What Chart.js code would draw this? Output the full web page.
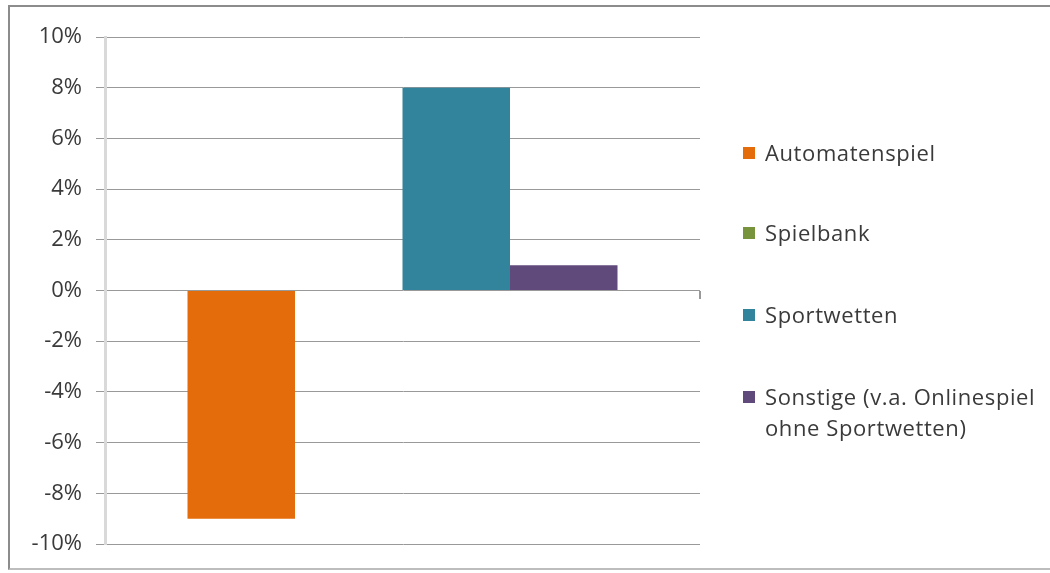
<!DOCTYPE html>
<html>
<head>
<meta charset="utf-8">
<script src="https://cdn.jsdelivr.net/npm/chart.js@4.4.0/dist/chart.umd.min.js"></script>
<style>
html,body{margin:0;padding:0;background:#fff;}
#wrap{position:relative;width:1050px;height:573px;overflow:hidden;}
#frame{position:absolute;left:8px;top:5px;width:1060px;height:565px;border-left:2px solid #8c8c8c;border-top:2px solid #8c8c8c;border-bottom:2px solid #bdbdbd;box-sizing:border-box;}
canvas{position:absolute;left:0;top:0;}
.lg{position:absolute;left:743px;font-family:"Open Sans",Lato,sans-serif;font-size:22px;letter-spacing:0.6px;line-height:31px;color:#3a3a3a;}
.lg .mk{position:absolute;left:0;top:10px;width:12px;height:12px;}
.lg .tx{position:absolute;left:22px;top:0;width:295px;white-space:normal;}
</style>
</head>
<body>
<div id="wrap">
<canvas id="c" width="1050" height="573"></canvas>
<div id="frame"></div>
<div id="legend"></div>
</div>
<script>
// Data
const categories = [''];
const seriesNames = ['Automatenspiel', 'Spielbank', 'Sportwetten', 'Sonstige (v.a. Onlinespiel ohne Sportwetten)'];
const automatenspiel = [-9];
const spielbank = [0];
const sportwetten = [8];
const sonstige = [1];
const yTicks = [-10, -8, -6, -4, -2, 0, 2, 4, 6, 8, 10];

const colors = ['#E46C0A', '#77933C', '#31849B', '#604A7B'];
const seriesValues = [automatenspiel, spielbank, sportwetten, sonstige];

const datasets = seriesNames.map((n, i) => ({
  label: n,
  data: seriesValues[i],
  backgroundColor: colors[i],
  borderWidth: 0,
  barPercentage: 1,
  categoryPercentage: 0.7227
}));

const FONT = '"Open Sans", Lato, sans-serif';

new Chart(document.getElementById('c'), {
  type: 'bar',
  data: { labels: categories, datasets },
  options: {
    responsive: false,
    animation: false,
    events: [],
    layout: { padding: { left: 0, top: 37, right: 350, bottom: 29 } },
    plugins: { legend: { display: false }, tooltip: { enabled: false } },
    scales: {
      y: {
        min: yTicks[0],
        max: yTicks[yTicks.length - 1],
        afterBuildTicks: (s) => { s.ticks = yTicks.map(v => ({ value: v })); },
        afterFit: (s) => { s.width = 105; },
        ticks: {
          callback: (v) => v + '%',
          color: '#3a3a3a',
          font: { family: FONT, size: 22 },
          padding: 14
        },
        grid: { color: '#999999', lineWidth: 1, tickLength: 9, tickColor: '#999999' },
        border: { display: true, color: '#d9d9d9', width: 3 }
      },
      x: {
        type: 'category',
        position: { y: 0 },
        offset: true,
        ticks: { display: false },
        grid: {
          offset: true,
          drawOnChartArea: false,
          drawTicks: true,
          tickLength: 8,
          lineWidth: 2,
          tickColor: (ctx) => ctx.index === 0 ? 'rgba(0,0,0,0)' : '#999999'
        },
        border: { display: false }
      }
    }
  }
});

// HTML legend built from the series arrays
const legendTops = [137, 217, 299, 381];
const lg = document.getElementById('legend');
seriesNames.forEach((n, i) => {
  const d = document.createElement('div');
  d.className = 'lg';
  d.style.top = legendTops[i] + 'px';
  const m = document.createElement('span');
  m.className = 'mk';
  m.style.background = colors[i];
  const t = document.createElement('span');
  t.className = 'tx';
  t.textContent = n;
  d.appendChild(m); d.appendChild(t);
  lg.appendChild(d);
});
</script>
</body>
</html>
